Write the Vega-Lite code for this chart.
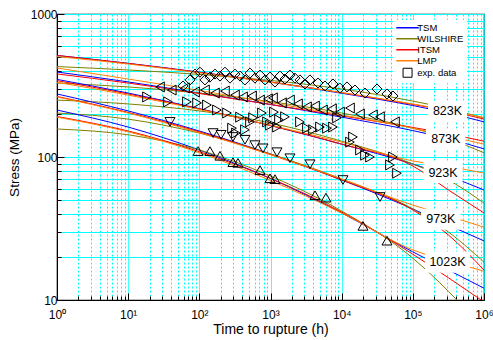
{
"$schema": "https://vega.github.io/schema/vega-lite/v6.json",
"width": 427, "height": 286,
"autosize": {"type": "none"},
"padding": {"left": 57, "top": 14, "right": 9, "bottom": 40},
"background": "white",
"config": {
  "font": "Liberation Sans",
  "view": {"stroke": "black", "strokeWidth": 1.2},
  "axis": {"domainColor": "black", "tickColor": "black", "labelColor": "black", "titleColor": "black", "titleFontWeight": "normal", "gridColor": "#00FFFF", "gridOpacity": 1, "gridWidth": 1, "labelFlush": false, "labelOverlap": false}
},
"datasets": {
"curves": [
{"temp":"823K","model":"TSM","t":1,"s":513},{"temp":"823K","model":"TSM","t":10,"s":452},{"temp":"823K","model":"TSM","t":100,"s":392},{"temp":"823K","model":"TSM","t":1000,"s":334},{"temp":"823K","model":"TSM","t":10000,"s":279},{"temp":"823K","model":"TSM","t":100000,"s":229},{"temp":"823K","model":"TSM","t":316228,"s":203},{"temp":"823K","model":"TSM","t":1000000,"s":176},
{"temp":"823K","model":"WILSHIRE","t":1,"s":429},{"temp":"823K","model":"WILSHIRE","t":10,"s":406},{"temp":"823K","model":"WILSHIRE","t":100,"s":378},{"temp":"823K","model":"WILSHIRE","t":1000,"s":343},{"temp":"823K","model":"WILSHIRE","t":10000,"s":299},{"temp":"823K","model":"WILSHIRE","t":100000,"s":246},{"temp":"823K","model":"WILSHIRE","t":316228,"s":218},{"temp":"823K","model":"WILSHIRE","t":1000000,"s":187},
{"temp":"823K","model":"ITSM","t":1,"s":513},{"temp":"823K","model":"ITSM","t":10,"s":451},{"temp":"823K","model":"ITSM","t":100,"s":391},{"temp":"823K","model":"ITSM","t":1000,"s":335},{"temp":"823K","model":"ITSM","t":10000,"s":282},{"temp":"823K","model":"ITSM","t":100000,"s":233},{"temp":"823K","model":"ITSM","t":316228,"s":210},{"temp":"823K","model":"ITSM","t":1000000,"s":184},
{"temp":"823K","model":"LMP","t":1,"s":504},{"temp":"823K","model":"LMP","t":10,"s":447},{"temp":"823K","model":"LMP","t":100,"s":388},{"temp":"823K","model":"LMP","t":1000,"s":333},{"temp":"823K","model":"LMP","t":10000,"s":282},{"temp":"823K","model":"LMP","t":100000,"s":235},{"temp":"823K","model":"LMP","t":316228,"s":212},{"temp":"823K","model":"LMP","t":1000000,"s":189},
{"temp":"873K","model":"TSM","t":1,"s":393},{"temp":"873K","model":"TSM","t":10,"s":335},{"temp":"873K","model":"TSM","t":100,"s":280},{"temp":"873K","model":"TSM","t":1000,"s":233},{"temp":"873K","model":"TSM","t":10000,"s":190},{"temp":"873K","model":"TSM","t":100000,"s":153},{"temp":"873K","model":"TSM","t":316228,"s":134},{"temp":"873K","model":"TSM","t":1000000,"s":114},
{"temp":"873K","model":"WILSHIRE","t":1,"s":329},{"temp":"873K","model":"WILSHIRE","t":10,"s":309},{"temp":"873K","model":"WILSHIRE","t":100,"s":280},{"temp":"873K","model":"WILSHIRE","t":1000,"s":244},{"temp":"873K","model":"WILSHIRE","t":10000,"s":203},{"temp":"873K","model":"WILSHIRE","t":100000,"s":159},{"temp":"873K","model":"WILSHIRE","t":316228,"s":134},{"temp":"873K","model":"WILSHIRE","t":1000000,"s":107},
{"temp":"873K","model":"ITSM","t":1,"s":381},{"temp":"873K","model":"ITSM","t":10,"s":329},{"temp":"873K","model":"ITSM","t":100,"s":278},{"temp":"873K","model":"ITSM","t":1000,"s":233},{"temp":"873K","model":"ITSM","t":10000,"s":194},{"temp":"873K","model":"ITSM","t":100000,"s":161},{"temp":"873K","model":"ITSM","t":316228,"s":145},{"temp":"873K","model":"ITSM","t":1000000,"s":129},
{"temp":"873K","model":"LMP","t":1,"s":419},{"temp":"873K","model":"LMP","t":10,"s":351},{"temp":"873K","model":"LMP","t":100,"s":292},{"temp":"873K","model":"LMP","t":1000,"s":240},{"temp":"873K","model":"LMP","t":10000,"s":197},{"temp":"873K","model":"LMP","t":100000,"s":159},{"temp":"873K","model":"LMP","t":316228,"s":140},{"temp":"873K","model":"LMP","t":1000000,"s":123},
{"temp":"923K","model":"TSM","t":1,"s":349},{"temp":"923K","model":"TSM","t":10,"s":280},{"temp":"923K","model":"TSM","t":100,"s":218},{"temp":"923K","model":"TSM","t":1000,"s":166},{"temp":"923K","model":"TSM","t":10000,"s":123},{"temp":"923K","model":"TSM","t":100000,"s":89.3},{"temp":"923K","model":"TSM","t":316228,"s":73.6},{"temp":"923K","model":"TSM","t":1000000,"s":58.8},
{"temp":"923K","model":"WILSHIRE","t":1,"s":250},{"temp":"923K","model":"WILSHIRE","t":10,"s":235},{"temp":"923K","model":"WILSHIRE","t":100,"s":210},{"temp":"923K","model":"WILSHIRE","t":1000,"s":173},{"temp":"923K","model":"WILSHIRE","t":10000,"s":129},{"temp":"923K","model":"WILSHIRE","t":100000,"s":89.3},{"temp":"923K","model":"WILSHIRE","t":316228,"s":69.1},{"temp":"923K","model":"WILSHIRE","t":1000000,"s":47.6},
{"temp":"923K","model":"ITSM","t":1,"s":342},{"temp":"923K","model":"ITSM","t":10,"s":276},{"temp":"923K","model":"ITSM","t":100,"s":217},{"temp":"923K","model":"ITSM","t":1000,"s":166},{"temp":"923K","model":"ITSM","t":10000,"s":123},{"temp":"923K","model":"ITSM","t":100000,"s":86.5},{"temp":"923K","model":"ITSM","t":316228,"s":58.8},{"temp":"923K","model":"ITSM","t":1000000,"s":40.6},
{"temp":"923K","model":"LMP","t":1,"s":333},{"temp":"923K","model":"LMP","t":10,"s":271},{"temp":"923K","model":"LMP","t":100,"s":215},{"temp":"923K","model":"LMP","t":1000,"s":167},{"temp":"923K","model":"LMP","t":10000,"s":127},{"temp":"923K","model":"LMP","t":100000,"s":93.8},{"temp":"923K","model":"LMP","t":316228,"s":85.8},{"temp":"923K","model":"LMP","t":1000000,"s":77.2},
{"temp":"973K","model":"TSM","t":1,"s":276},{"temp":"973K","model":"TSM","t":10,"s":210},{"temp":"973K","model":"TSM","t":100,"s":152},{"temp":"973K","model":"TSM","t":1000,"s":105},{"temp":"973K","model":"TSM","t":10000,"s":69.1},{"temp":"973K","model":"TSM","t":100000,"s":43.3},{"temp":"973K","model":"TSM","t":316228,"s":33.4},{"temp":"973K","model":"TSM","t":1000000,"s":25.9},
{"temp":"973K","model":"WILSHIRE","t":1,"s":203},{"temp":"973K","model":"WILSHIRE","t":10,"s":184},{"temp":"973K","model":"WILSHIRE","t":100,"s":147},{"temp":"973K","model":"WILSHIRE","t":1000,"s":105},{"temp":"973K","model":"WILSHIRE","t":10000,"s":70.2},{"temp":"973K","model":"WILSHIRE","t":100000,"s":43.3},{"temp":"973K","model":"WILSHIRE","t":316228,"s":29.9},{"temp":"973K","model":"WILSHIRE","t":1000000,"s":18.4},
{"temp":"973K","model":"ITSM","t":1,"s":265},{"temp":"973K","model":"ITSM","t":10,"s":205},{"temp":"973K","model":"ITSM","t":100,"s":150},{"temp":"973K","model":"ITSM","t":1000,"s":104},{"temp":"973K","model":"ITSM","t":10000,"s":69.1},{"temp":"973K","model":"ITSM","t":100000,"s":42.6},{"temp":"973K","model":"ITSM","t":316228,"s":28.5},{"temp":"973K","model":"ITSM","t":1000000,"s":16.2},
{"temp":"973K","model":"LMP","t":1,"s":263},{"temp":"973K","model":"LMP","t":10,"s":203},{"temp":"973K","model":"LMP","t":100,"s":148},{"temp":"973K","model":"LMP","t":1000,"s":104},{"temp":"973K","model":"LMP","t":10000,"s":70.2},{"temp":"973K","model":"LMP","t":100000,"s":46.1},{"temp":"973K","model":"LMP","t":316228,"s":38.7},{"temp":"973K","model":"LMP","t":1000000,"s":32.3},
{"temp":"1023K","model":"TSM","t":1,"s":213},{"temp":"1023K","model":"TSM","t":10,"s":162},{"temp":"1023K","model":"TSM","t":100,"s":112},{"temp":"1023K","model":"TSM","t":1000,"s":70.8},{"temp":"1023K","model":"TSM","t":10000,"s":40.6},{"temp":"1023K","model":"TSM","t":100000,"s":21.7},{"temp":"1023K","model":"TSM","t":316228,"s":16.2},{"temp":"1023K","model":"TSM","t":1000000,"s":12.1},
{"temp":"1023K","model":"WILSHIRE","t":1,"s":157},{"temp":"1023K","model":"WILSHIRE","t":10,"s":143},{"temp":"1023K","model":"WILSHIRE","t":100,"s":112},{"temp":"1023K","model":"WILSHIRE","t":1000,"s":73.6},{"temp":"1023K","model":"WILSHIRE","t":10000,"s":41.9},{"temp":"1023K","model":"WILSHIRE","t":100000,"s":19.6},{"temp":"1023K","model":"WILSHIRE","t":316228,"s":11.5},{"temp":"1023K","model":"WILSHIRE","t":1000000,"s":6.2},
{"temp":"1023K","model":"ITSM","t":1,"s":192},{"temp":"1023K","model":"ITSM","t":10,"s":152},{"temp":"1023K","model":"ITSM","t":100,"s":109},{"temp":"1023K","model":"ITSM","t":1000,"s":70.8},{"temp":"1023K","model":"ITSM","t":10000,"s":41.2},{"temp":"1023K","model":"ITSM","t":100000,"s":20.9},{"temp":"1023K","model":"ITSM","t":316228,"s":14.3},{"temp":"1023K","model":"ITSM","t":1000000,"s":9.7},
{"temp":"1023K","model":"LMP","t":1,"s":190},{"temp":"1023K","model":"LMP","t":10,"s":150},{"temp":"1023K","model":"LMP","t":100,"s":107},{"temp":"1023K","model":"LMP","t":1000,"s":68.5},{"temp":"1023K","model":"LMP","t":10000,"s":40.6},{"temp":"1023K","model":"LMP","t":100000,"s":22.4},{"temp":"1023K","model":"LMP","t":316228,"s":18.7},{"temp":"1023K","model":"LMP","t":1000000,"s":15.9}
],
"points": [
{"temp":"823K","model":"exp. data","t":59,"s":314},{"temp":"823K","model":"exp. data","t":74,"s":346},{"temp":"823K","model":"exp. data","t":87,"s":380},{"temp":"823K","model":"exp. data","t":102,"s":392},{"temp":"823K","model":"exp. data","t":120,"s":346},{"temp":"823K","model":"exp. data","t":141,"s":362},{"temp":"823K","model":"exp. data","t":166,"s":380},{"temp":"823K","model":"exp. data","t":195,"s":368},{"temp":"823K","model":"exp. data","t":229,"s":392},{"temp":"823K","model":"exp. data","t":270,"s":356},{"temp":"823K","model":"exp. data","t":317,"s":380},{"temp":"823K","model":"exp. data","t":373,"s":368},{"temp":"823K","model":"exp. data","t":438,"s":346},{"temp":"823K","model":"exp. data","t":515,"s":386},{"temp":"823K","model":"exp. data","t":605,"s":356},{"temp":"823K","model":"exp. data","t":712,"s":374},{"temp":"823K","model":"exp. data","t":837,"s":346},{"temp":"823K","model":"exp. data","t":984,"s":362},{"temp":"823K","model":"exp. data","t":1156,"s":334},{"temp":"823K","model":"exp. data","t":1359,"s":368},{"temp":"823K","model":"exp. data","t":1598,"s":351},{"temp":"823K","model":"exp. data","t":1878,"s":374},{"temp":"823K","model":"exp. data","t":2208,"s":356},{"temp":"823K","model":"exp. data","t":2596,"s":346},{"temp":"823K","model":"exp. data","t":3052,"s":324},{"temp":"823K","model":"exp. data","t":3588,"s":346},{"temp":"823K","model":"exp. data","t":4650,"s":329},{"temp":"823K","model":"exp. data","t":5830,"s":314},{"temp":"823K","model":"exp. data","t":7550,"s":324},{"temp":"823K","model":"exp. data","t":9470,"s":303},{"temp":"823K","model":"exp. data","t":11880,"s":309},{"temp":"823K","model":"exp. data","t":15390,"s":294},{"temp":"823K","model":"exp. data","t":21270,"s":280},{"temp":"823K","model":"exp. data","t":31360,"s":299},{"temp":"823K","model":"exp. data","t":43330,"s":276},{"temp":"823K","model":"exp. data","t":52610,"s":267},
{"temp":"873K","model":"exp. data","t":28,"s":309},{"temp":"873K","model":"exp. data","t":41,"s":294},{"temp":"873K","model":"exp. data","t":63,"s":304},{"temp":"873K","model":"exp. data","t":87,"s":285},{"temp":"873K","model":"exp. data","t":120,"s":294},{"temp":"873K","model":"exp. data","t":166,"s":280},{"temp":"873K","model":"exp. data","t":229,"s":289},{"temp":"873K","model":"exp. data","t":317,"s":271},{"temp":"873K","model":"exp. data","t":411,"s":263},{"temp":"873K","model":"exp. data","t":550,"s":267},{"temp":"873K","model":"exp. data","t":712,"s":250},{"temp":"873K","model":"exp. data","t":922,"s":255},{"temp":"873K","model":"exp. data","t":1084,"s":259},{"temp":"873K","model":"exp. data","t":1450,"s":239},{"temp":"873K","model":"exp. data","t":1878,"s":250},{"temp":"873K","model":"exp. data","t":2433,"s":235},{"temp":"873K","model":"exp. data","t":3256,"s":224},{"temp":"873K","model":"exp. data","t":4220,"s":227},{"temp":"873K","model":"exp. data","t":5464,"s":213},{"temp":"873K","model":"exp. data","t":7310,"s":217},{"temp":"873K","model":"exp. data","t":9470,"s":206},{"temp":"873K","model":"exp. data","t":13090,"s":220},{"temp":"873K","model":"exp. data","t":18090,"s":200},{"temp":"873K","model":"exp. data","t":27540,"s":197},{"temp":"873K","model":"exp. data","t":34550,"s":191},{"temp":"873K","model":"exp. data","t":56140,"s":176},
{"temp":"923K","model":"exp. data","t":18.4,"s":263},{"temp":"923K","model":"exp. data","t":36.3,"s":243},{"temp":"923K","model":"exp. data","t":67,"s":243},{"temp":"923K","model":"exp. data","t":93,"s":239},{"temp":"923K","model":"exp. data","t":128,"s":231},{"temp":"923K","model":"exp. data","t":177,"s":213},{"temp":"923K","model":"exp. data","t":245,"s":203},{"temp":"923K","model":"exp. data","t":288,"s":159},{"temp":"923K","model":"exp. data","t":327,"s":147},{"temp":"923K","model":"exp. data","t":373,"s":190},{"temp":"923K","model":"exp. data","t":438,"s":155},{"temp":"923K","model":"exp. data","t":515,"s":176},{"temp":"923K","model":"exp. data","t":568,"s":188},{"temp":"923K","model":"exp. data","t":759,"s":203},{"temp":"923K","model":"exp. data","t":893,"s":176},{"temp":"923K","model":"exp. data","t":984,"s":167},{"temp":"923K","model":"exp. data","t":1119,"s":206},{"temp":"923K","model":"exp. data","t":1234,"s":162},{"temp":"923K","model":"exp. data","t":1316,"s":182},{"temp":"923K","model":"exp. data","t":1598,"s":191},{"temp":"923K","model":"exp. data","t":2596,"s":176},{"temp":"923K","model":"exp. data","t":3256,"s":159},{"temp":"923K","model":"exp. data","t":3954,"s":155},{"temp":"923K","model":"exp. data","t":4960,"s":162},{"temp":"923K","model":"exp. data","t":6220,"s":159},{"temp":"923K","model":"exp. data","t":7550,"s":162},{"temp":"923K","model":"exp. data","t":8596,"s":188},{"temp":"923K","model":"exp. data","t":13090,"s":127},{"temp":"923K","model":"exp. data","t":14420,"s":138},{"temp":"923K","model":"exp. data","t":18090,"s":112},{"temp":"923K","model":"exp. data","t":21270,"s":103},{"temp":"923K","model":"exp. data","t":25000,"s":100},{"temp":"923K","model":"exp. data","t":47740,"s":88},{"temp":"923K","model":"exp. data","t":52610,"s":100},{"temp":"923K","model":"exp. data","t":59900,"s":77},
{"temp":"973K","model":"exp. data","t":38.7,"s":176},{"temp":"973K","model":"exp. data","t":156,"s":147},{"temp":"973K","model":"exp. data","t":202,"s":143},{"temp":"973K","model":"exp. data","t":297,"s":138},{"temp":"973K","model":"exp. data","t":438,"s":132},{"temp":"973K","model":"exp. data","t":605,"s":121},{"temp":"973K","model":"exp. data","t":784,"s":115},{"temp":"973K","model":"exp. data","t":1234,"s":108},{"temp":"973K","model":"exp. data","t":1878,"s":98},{"temp":"973K","model":"exp. data","t":3588,"s":89},{"temp":"973K","model":"exp. data","t":10430,"s":69},{"temp":"973K","model":"exp. data","t":34550,"s":52.5},
{"temp":"1023K","model":"exp. data","t":96,"s":110},{"temp":"1023K","model":"exp. data","t":141,"s":110},{"temp":"1023K","model":"exp. data","t":195,"s":102},{"temp":"1023K","model":"exp. data","t":297,"s":92},{"temp":"1023K","model":"exp. data","t":349,"s":91},{"temp":"1023K","model":"exp. data","t":712,"s":81},{"temp":"1023K","model":"exp. data","t":984,"s":71},{"temp":"1023K","model":"exp. data","t":1156,"s":70},{"temp":"1023K","model":"exp. data","t":4220,"s":54},{"temp":"1023K","model":"exp. data","t":6023,"s":52},{"temp":"1023K","model":"exp. data","t":19930,"s":33},{"temp":"1023K","model":"exp. data","t":43330,"s":26}
],
"labels": [
{"label":"823K","t":306800,"s":208.1,"t1":163300,"t2":576700,"s1":175.7,"s2":246.4},
{"label":"873K","t":290400,"s":133.2,"t1":153000,"t2":549300,"s1":112.4,"s2":157.7},
{"label":"923K","t":265200,"s":77.9,"t1":141100,"t2":498500,"s1":65.7,"s2":92.3},
{"label":"973K","t":247000,"s":36.8,"t1":130200,"t2":467300,"s1":31.0,"s2":43.5},
{"label":"1023K","t":306800,"s":18.4,"t1":148200,"t2":635300,"s1":15.5,"s2":21.8}
]
},
"encoding": {
  "x": {"field": "t", "type": "quantitative",
    "scale": {"type": "log", "domain": [1, 1000000], "nice": false},
    "axis": {
      "values": [1,2,3,4,5,6,7,8,9,10,20,30,40,50,60,70,80,90,100,200,300,400,500,600,700,800,900,1000,2000,3000,4000,5000,6000,7000,8000,9000,10000,20000,30000,40000,50000,60000,70000,80000,90000,100000,200000,300000,400000,500000,600000,700000,800000,900000,1000000],
      "labelExpr": "abs(log(datum.value)/LN10 - round(log(datum.value)/LN10)) < 0.001 ? '10' + ['⁰','¹','²','³','⁴','⁵','⁶'][round(log(datum.value)/LN10)] : ''",
      "labelFontSize": 12, "labelPadding": 16,
      "title": "Time to rupture (h)", "titleFontSize": 14, "titlePadding": -1,
      "grid": true,
      "gridDash": {"condition": {"test": "abs(log(datum.value)/LN10 - round(log(datum.value)/LN10)) < 0.001", "value": [1, 0]}, "value": [2, 2]},
      "tickSize": {"condition": {"test": "abs(log(datum.value)/LN10 - round(log(datum.value)/LN10)) < 0.001", "value": -7}, "value": -4}
    }},
  "y": {"field": "s", "type": "quantitative",
    "scale": {"type": "log", "domain": [10, 1000], "nice": false},
    "axis": {
      "values": [10,20,30,40,50,60,70,80,90,100,200,300,400,500,600,700,800,900,1000],
      "labelExpr": "abs(log(datum.value)/LN10 - round(log(datum.value)/LN10)) < 0.001 ? format(datum.value, 'd') : ''",
      "labelFontSize": 12, "labelPadding": 7,
      "title": "Stress (MPa)", "titleFontSize": 13.5, "titlePadding": 9,
      "grid": true,
      "tickSize": {"condition": {"test": "abs(log(datum.value)/LN10 - round(log(datum.value)/LN10)) < 0.001", "value": -7}, "value": -4}
    }}
},
"layer": [
  {
    "data": {"name": "curves"},
    "mark": {"type": "line", "strokeWidth": 1, "clip": true, "interpolate": "monotone"},
    "encoding": {
      "color": {"field": "model", "type": "nominal",
        "scale": {"domain": ["TSM", "WILSHIRE", "ITSM", "LMP", "exp. data"], "range": ["#0000FF", "#808000", "#FF0000", "#FF8000", "#000000"]},
        "legend": {
          "title": null, "orient": "none", "legendX": 336, "legendY": 6,
          "fillColor": "white", "padding": 3, "rowPadding": 0,
          "labelFontSize": 9.5, "labelFont": "Liberation Sans", "labelColor": "black",
          "symbolType": "M-2.5,0H2.5", "symbolSize": 81, "symbolStrokeWidth": 1.5,
          "symbolOffset": 6.8, "labelOffset": 5,
          "encode": {"symbols": {"update": {
            "shape": {"signal": "datum.label === 'exp. data' ? 'square' : 'M-2.5,0H2.5'"},
            "fill": {"value": "transparent"},
            "strokeWidth": {"signal": "datum.label === 'exp. data' ? 1 : 1.5"},
            "size": {"value": 81}
          }}}
        }},
      "detail": {"field": "temp"}
    }
  },
  {
    "data": {"name": "points"},
    "mark": {"type": "point", "filled": false, "strokeWidth": 1, "size": 100, "opacity": 1},
    "encoding": {
      "color": {"field": "model", "type": "nominal",
        "scale": {"domain": ["TSM", "WILSHIRE", "ITSM", "LMP", "exp. data"], "range": ["#0000FF", "#808000", "#FF0000", "#FF8000", "#000000"]}},
      "shape": {"field": "temp", "type": "nominal",
        "scale": {"domain": ["823K", "873K", "923K", "973K", "1023K"], "range": ["diamond", "triangle-left", "triangle-right", "triangle-down", "triangle-up"]},
        "legend": null}
    }
  },
  {
    "data": {"name": "labels"},
    "mark": {"type": "rect", "fill": "white", "stroke": null},
    "encoding": {
      "x": {"field": "t1", "type": "quantitative", "scale": {"type": "log", "domain": [1, 1000000], "nice": false}},
      "x2": {"field": "t2"},
      "y": {"field": "s1", "type": "quantitative", "scale": {"type": "log", "domain": [10, 1000], "nice": false}},
      "y2": {"field": "s2"}
    }
  },
  {
    "data": {"name": "labels"},
    "mark": {"type": "text", "fontSize": 12.5, "font": "Liberation Sans", "color": "black", "align": "center", "baseline": "middle"},
    "encoding": {"text": {"field": "label"}}
  }
]
}
